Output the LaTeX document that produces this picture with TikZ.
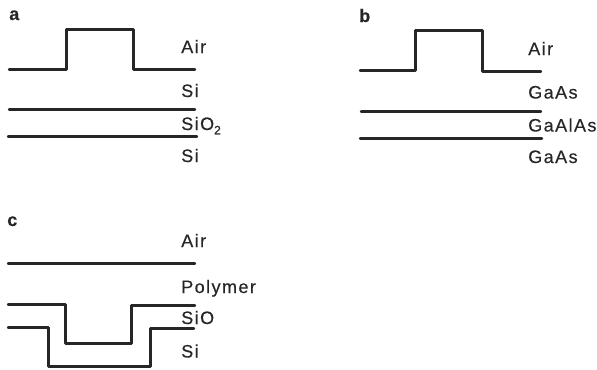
\documentclass[tikz,border=0pt]{standalone}
\usepackage{fontspec}
\setmainfont[LetterSpace=8,FakeBold=0.4]{Liberation Sans}
\usetikzlibrary{positioning}

\newcommand{\lowtwo}{\raisebox{-3.2pt}{\fontsize{9}{10}\selectfont 2}}

\tikzset{
  layerline/.style={line width=1.8pt, line join=round, line cap=round, black!85},
  layerlabel/.style={anchor=base west, inner sep=0pt, font=\fontsize{13.5}{15}\selectfont, black!85},
  panellabel/.style={anchor=base west, inner sep=0pt, font=\fontsize{13.5}{15}\selectfont\bfseries, black!85}
}

\begin{document}
\begin{tikzpicture}[x=0.75pt,y=-0.75pt]
\useasboundingbox (0,0) rectangle (597,369);

% panel a
\draw[layerline] (9,69.5) -- (66.5,69.5) -- (66.5,29.5) -- (133.5,29.5) -- (133.5,69.5) -- (195,69.5);
\draw[layerline] (9,109.5) -- (195,109.5);
\draw[layerline] (8,136.5) -- (197,136.5);
\node[panellabel] (labelA) at (9,20) {a};
\node[layerlabel] (airA) at (181,53) {Air};
\node[layerlabel] (siA) at (181,97) {Si};
\node[layerlabel] (oxideA) at (181,130) {SiO\lowtwo};
\node[layerlabel] (subA) at (181,162) {Si};

% panel b
\draw[layerline] (360,70.5) -- (415.5,70.5) -- (415.5,30.5) -- (482.5,30.5) -- (482.5,71.5) -- (541,71.5);
\draw[layerline] (361,111.5) -- (541,111.5);
\draw[layerline] (360,138.5) -- (542,138.5);
\node[panellabel] (labelB) at (359,22) {b};
\node[layerlabel] (airB) at (528,55) {Air};
\node[layerlabel] (gaasB) at (528,98.5) {GaAs};
\node[layerlabel] (alloyB) at (528,131.5) {GaAlAs};
\node[layerlabel] (subB) at (528,163) {GaAs};

% panel c
\draw[layerline] (8,263.5) -- (195,263.5);
\draw[layerline] (8,304.5) -- (65.5,304.5) -- (65.5,343.5) -- (131.5,343.5) -- (131.5,305.5) -- (195,305.5);
\draw[layerline] (8,327.5) -- (48.5,327.5) -- (48.5,366.5) -- (150.5,366.5) -- (150.5,328.5) -- (194,328.5);
\node[panellabel] (labelC) at (7,226) {c};
\node[layerlabel] (airC) at (181,247) {Air};
\node[layerlabel] (polyC) at (181,293) {Polymer};
\node[layerlabel] (oxideC) at (181,324) {SiO};
\node[layerlabel] (subC) at (181,357.5) {Si};
\end{tikzpicture}
\end{document}
